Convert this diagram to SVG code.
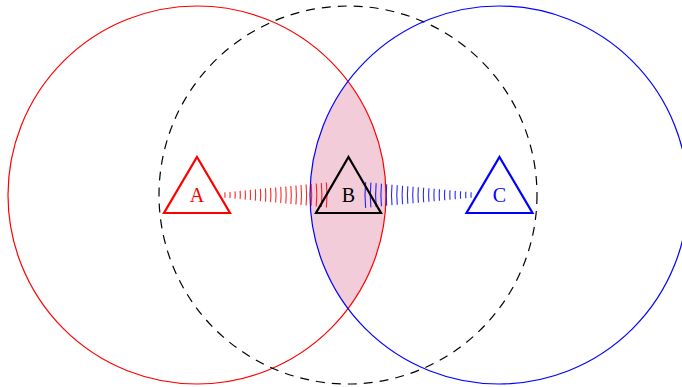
<svg xmlns="http://www.w3.org/2000/svg" width="682" height="387" viewBox="0 0 682 387">
  <style>
    .range { fill: none; stroke-width: 1.2; }
    .tri { fill: none; stroke-width: 2.2; stroke-linejoin: miter; }
    .lbl { font-family: "Liberation Serif", "DejaVu Serif", serif; font-size: 20px; text-anchor: middle; }
    .wr path { fill: none; stroke: #ff0000; stroke-width: 1.1; stroke-opacity: 0.85; }
    .wb path { fill: none; stroke: #0000ff; stroke-width: 1.1; stroke-opacity: 0.85; }
  </style>
  <rect width="682" height="387" fill="#ffffff"/>

  <g id="overlap">
    <path d="M348,81.3 A189,189 0 0 1 348,308.7 A189,189 0 0 1 348,81.3 Z" fill="#f2ccd9" stroke="none"/>
  </g>

  <g id="ranges">
    <circle id="rangeA" class="range" cx="197" cy="195" r="189" stroke="#ff0000"/>
    <circle id="rangeB" class="range" cx="348" cy="195" r="189" stroke="#000000" stroke-dasharray="9 7"/>
    <circle id="rangeC" class="range" cx="499" cy="195" r="189" stroke="#0000ff"/>
  </g>

  <g id="connectors">
    <g id="waveA" class="wr">
      <path d="M224.87,192.32 A28,28 0 0 1 224.87,197.68"/>
      <path d="M229.95,191.83 A33.1,33.1 0 0 1 229.95,198.17"/>
      <path d="M235.02,191.34 A38.2,38.2 0 0 1 235.02,198.66"/>
      <path d="M240.10,190.85 A43.3,43.3 0 0 1 240.10,199.15"/>
      <path d="M245.18,190.36 A48.4,48.4 0 0 1 245.18,199.64"/>
      <path d="M250.25,189.87 A53.5,53.5 0 0 1 250.25,200.13"/>
      <path d="M255.33,189.38 A58.6,58.6 0 0 1 255.33,200.62"/>
      <path d="M260.41,188.89 A63.7,63.7 0 0 1 260.41,201.11"/>
      <path d="M265.48,188.41 A68.8,68.8 0 0 1 265.48,201.59"/>
      <path d="M270.56,187.92 A73.9,73.9 0 0 1 270.56,202.08"/>
      <path d="M275.64,187.43 A79,79 0 0 1 275.64,202.57"/>
      <path d="M280.71,186.94 A84.1,84.1 0 0 1 280.71,203.06"/>
      <path d="M285.79,186.45 A89.2,89.2 0 0 1 285.79,203.55"/>
      <path d="M290.87,185.96 A94.3,94.3 0 0 1 290.87,204.04"/>
      <path d="M295.94,185.47 A99.4,99.4 0 0 1 295.94,204.53"/>
      <path d="M301.02,184.98 A104.5,104.5 0 0 1 301.02,205.02"/>
      <path d="M306.10,184.49 A109.6,109.6 0 0 1 306.10,205.51"/>
      <path d="M311.17,184.01 A114.7,114.7 0 0 1 311.17,205.99"/>
      <path d="M316.25,183.52 A119.8,119.8 0 0 1 316.25,206.48"/>
      <path d="M321.33,183.03 A124.9,124.9 0 0 1 321.33,206.97"/>
      <path d="M326.40,182.54 A130,130 0 0 1 326.40,207.46"/>
    </g>
    <g id="waveC" class="wb">
      <path d="M471.13,192.32 A28,28 0 0 0 471.13,197.68"/>
      <path d="M465.85,191.81 A33.3,33.3 0 0 0 465.85,198.19"/>
      <path d="M460.58,191.30 A38.6,38.6 0 0 0 460.58,198.70"/>
      <path d="M455.30,190.79 A43.9,43.9 0 0 0 455.30,199.21"/>
      <path d="M450.03,190.28 A49.2,49.2 0 0 0 450.03,199.72"/>
      <path d="M444.75,189.78 A54.5,54.5 0 0 0 444.75,200.22"/>
      <path d="M439.48,189.27 A59.8,59.8 0 0 0 439.48,200.73"/>
      <path d="M434.20,188.76 A65.1,65.1 0 0 0 434.20,201.24"/>
      <path d="M428.92,188.25 A70.4,70.4 0 0 0 428.92,201.75"/>
      <path d="M423.65,187.74 A75.7,75.7 0 0 0 423.65,202.26"/>
      <path d="M418.37,187.24 A81,81 0 0 0 418.37,202.76"/>
      <path d="M413.10,186.73 A86.3,86.3 0 0 0 413.10,203.27"/>
      <path d="M407.82,186.22 A91.6,91.6 0 0 0 407.82,203.78"/>
      <path d="M402.55,185.71 A96.9,96.9 0 0 0 402.55,204.29"/>
      <path d="M397.27,185.20 A102.2,102.2 0 0 0 397.27,204.80"/>
      <path d="M391.99,184.70 A107.5,107.5 0 0 0 391.99,205.30"/>
      <path d="M386.72,184.19 A112.8,112.8 0 0 0 386.72,205.81"/>
      <path d="M381.44,183.68 A118.1,118.1 0 0 0 381.44,206.32"/>
      <path d="M376.17,183.17 A123.4,123.4 0 0 0 376.17,206.83"/>
      <path d="M370.89,182.66 A128.7,128.7 0 0 0 370.89,207.34"/>
      <path d="M365.62,182.16 A134,134 0 0 0 365.62,207.84"/>
    </g>
  </g>

  <g id="nodeA">
    <polygon class="tri" points="197,157 230,213 164,213" stroke="#ff0000"/>
    <text class="lbl" x="197" y="202" fill="#ff0000">A</text>
  </g>
  <g id="nodeB">
    <polygon class="tri" points="348.5,157 381,213 316,213" stroke="#000000"/>
    <text class="lbl" x="348.5" y="202" fill="#000000">B</text>
  </g>
  <g id="nodeC">
    <polygon class="tri" points="499.5,157 532.5,213 466.5,213" stroke="#0000ff"/>
    <text class="lbl" x="499.5" y="202" fill="#0000ff">C</text>
  </g>
</svg>
